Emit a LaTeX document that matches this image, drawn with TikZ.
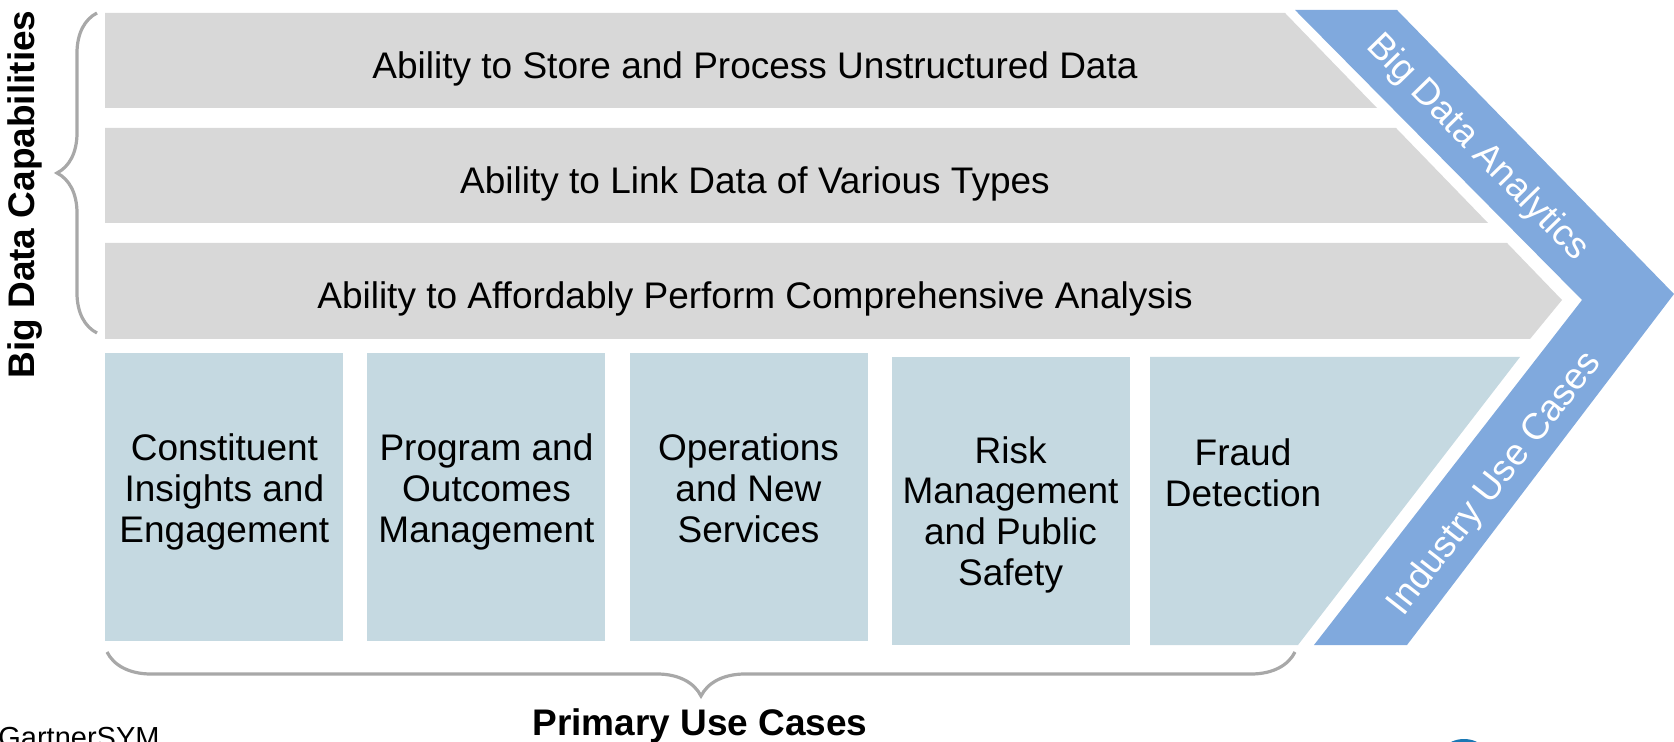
\documentclass[tikz,border=0pt]{standalone}
\usepackage{fontspec}
\setmainfont{Liberation Sans}
\usepackage{tikz}
\usetikzlibrary{positioning,decorations.pathreplacing}
\definecolor{barcolor}{RGB}{216,216,216}
\definecolor{casecolor}{RGB}{197,217,225}
\definecolor{arrowcolor}{RGB}{128,169,221}
\definecolor{bracecolor}{RGB}{168,168,168}
\definecolor{logocolor}{RGB}{26,120,180}

\begin{document}
\begin{tikzpicture}[
    x=0.5pt, y=-0.5pt,
    node distance=11.625pt,
    casebox/.style={rectangle, fill=casecolor, minimum width=119pt, minimum height=144pt, inner sep=0pt},
    bartext/.style={anchor=base, inner sep=0pt, font=\fontsize{18.5}{20.4}\selectfont},
    casetext/.style={anchor=base, inner sep=0pt, align=center, font=\fontsize{18.5}{20.4}\selectfont},
    axistext/.style={anchor=base, inner sep=0pt, font=\fontsize{18.5}{20.4}\selectfont\bfseries},
    armtext/.style={inner sep=0pt, text=white, font=\fontsize{18.5}{20.4}\selectfont},
    curly/.style={draw=bracecolor, line width=1.6pt, decorate, decoration={brace, amplitude=#1}},
    curly/.default=20pt
]
    \useasboundingbox (0,0) rectangle (1674,742);

    % Chevron
    \fill[arrowcolor] (1295,10) -- (1397,10) -- (1674,294) -- (1407,645) -- (1314,645) -- (1582,300) -- cycle;
    \node[armtext, rotate=-45.7] (analytics) at (1477,148) {Big Data Analytics};
    \node[armtext, rotate=52] (industry) at (1495,484) {Industry Use Cases};

    % Capability bars
    \fill[barcolor] (105,13) -- (1285,13) -- (1377,108) -- (105,108) -- cycle;
    \fill[barcolor] (105,128) -- (1396,128) -- (1488,223) -- (105,223) -- cycle;
    \fill[barcolor] (105,243) -- (1507,243) -- (1562,300) -- (1530,339) -- (105,339) -- cycle;
    \node[bartext] (store) at (755,79) {Ability to Store and Process Unstructured Data};
    \node[bartext] (link) at (755,194) {Ability to Link Data of Various Types};
    \node[bartext] (afford) at (755,309) {Ability to Affordably Perform Comprehensive Analysis};

    % Use case boxes
    \node[casebox, anchor=north west] (case1) at (105,353) {};
    \node[casebox, right=of case1] (case2) {};
    \node[casebox, right=of case2] (case3) {};
    \node[casebox, right=of case3, yshift=-2pt] (case4) {};
    \fill[casecolor] (1150,357) -- (1520,357) -- (1298,645) -- (1150,645) -- cycle;

    % (base = last line)
    \node[casetext] (constituent) at ([yshift=-94.6pt]case1.north) {Constituent\\Insights and\\Engagement};
    \node[casetext] (program) at ([yshift=-94.6pt]case2.north) {Program and\\Outcomes\\Management};
    \node[casetext] (operations) at ([yshift=-94.6pt]case3.north) {Operations\\and New\\Services};
    \node[casetext] (risk) at ([yshift=-114.2pt]case4.north) {Risk\\Management\\and Public\\Safety};
    \node[casetext] (fraud) at (1243,506) {Fraud\\Detection};

    % Braces
    \coordinate (captop) at (97,13);
    \coordinate (capbot) at (97,333);
    \draw[curly] (capbot) -- (captop);
    \coordinate (useleft) at (107,652);
    \coordinate (useright) at (1295,652);
    \draw[curly=22pt] (useright) -- (useleft);

    \node[axistext, rotate=90] (capabilities) at (34,194.5) {Big Data Capabilities};
    \node[axistext] (primary) at (700,735) {Primary Use Cases};

    % Footer
    \node[anchor=base west, inner sep=0pt, font=\fontsize{14.5}{17}\selectfont] (gartner) at (-2,747) {GartnerSYM};
    \node[circle, fill=logocolor, minimum size=30pt, inner sep=0pt] (logo) at (1464,769) {};
\end{tikzpicture}
\end{document}
